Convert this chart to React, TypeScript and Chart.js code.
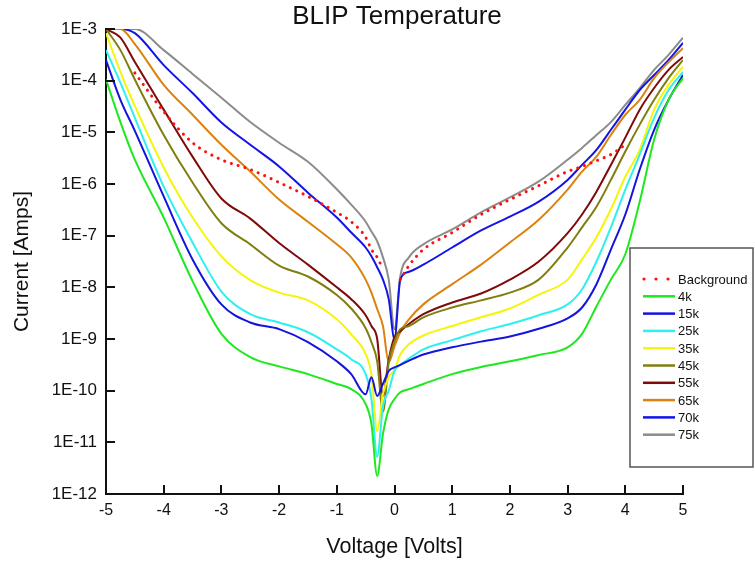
import React, { useEffect, useRef } from "react";
import { Chart, registerables } from "chart.js";

Chart.register(...registerables);

// Voltage grid (Volts)
const voltage = [-5, -4.75, -4.5, -4, -3.5, -3, -2.5, -2, -1.5, -1, -0.75, -0.5, -0.4, -0.3, -0.2, -0.1, 0, 0.1, 0.25, 0.5, 1, 1.5, 2, 2.5, 3, 3.25, 3.5, 3.75, 4, 4.25, 4.5, 4.75, 5];

// Currents (Amps)
const background = [null, null, 1.41e-4, 2.51e-5, 6.3e-6, 2.95e-6, 1.91e-6, 1.07e-6, 5.75e-7, 2.82e-7, 1.86e-7, 9.3e-8, 5.4e-8, 3.8e-8, 2.24e-8, null, null, 1.41e-8, 2.63e-8, 5.4e-8, 1.15e-7, 2.57e-7, 5.0e-7, 9.3e-7, 1.74e-6, 2.19e-6, 2.82e-6, 3.72e-6, 5.75e-6, null, null, null, null];
const t4k = [1.05e-4, 1.58e-5, 2.95e-6, 2.24e-7, 1.32e-8, 1.26e-9, 4.47e-10, 2.95e-10, 2.09e-10, 1.35e-10, 1.07e-10, 5.5e-11, 2.29e-11, 2.24e-12, 1.45e-11, 4.37e-11, 6.9e-11, 9.3e-11, 1.07e-10, 1.35e-10, 2.09e-10, 2.88e-10, 3.7e-10, 4.9e-10, 6.9e-10, 1.26e-9, 4.27e-9, 1.41e-8, 4.37e-8, 4.57e-7, 7.24e-6, 4.27e-5, 1.12e-4];
const t15k = [2.51e-4, 4.27e-5, 1.07e-5, 5.75e-7, 3.47e-8, 4.68e-9, 2.09e-9, 1.55e-9, 8.7e-10, 3.7e-10, 2.09e-10, 8.5e-11, 1.82e-10, 7.9e-11, 1.35e-10, 2.4e-10, 2.82e-10, 3.16e-10, 3.8e-10, 5.0e-10, 6.9e-10, 8.9e-10, 1.12e-9, 1.58e-9, 2.51e-9, 4.07e-9, 1.15e-8, 5.37e-8, 2.57e-7, 1.91e-6, 1.12e-5, 4.27e-5, 1.29e-4];
const t25k = [3.9e-4, 9.1e-5, 1.91e-5, 8.9e-7, 7.4e-8, 8.3e-9, 3.02e-9, 2.09e-9, 1.35e-9, 6.3e-10, 4.07e-10, 2.09e-10, 6.9e-11, 5.25e-12, 5.0e-11, 1.0e-10, 2.4e-10, 3.16e-10, 4.17e-10, 6.3e-10, 9.5e-10, 1.41e-9, 1.95e-9, 2.88e-9, 4.68e-9, 9.1e-9, 3.16e-8, 1.45e-7, 7.8e-7, 3.72e-6, 1.91e-5, 6.6e-5, 1.48e-4];
const t35k = [8.3e-4, 1.48e-4, 3.24e-5, 2.09e-6, 2.24e-7, 3.98e-8, 1.38e-8, 7.9e-9, 5.6e-9, 2.4e-9, 1.23e-9, 5.1e-10, 2.09e-10, 1.66e-11, 8.5e-11, 1.82e-10, 2.5e-10, 5.0e-10, 7.9e-10, 1.17e-9, 1.78e-9, 2.63e-9, 3.89e-9, 7.2e-9, 1.41e-8, 3.47e-8, 9.3e-8, 3.24e-7, 1.38e-6, 4.57e-6, 2.75e-5, 8.3e-5, 1.86e-4];
const t45k = [1.0e-3, 3.9e-4, 1.05e-4, 8.9e-6, 1.07e-6, 1.74e-7, 6.8e-8, 2.63e-8, 1.62e-8, 7.1e-9, 3.89e-9, 1.62e-9, 8.7e-10, 3.7e-10, 3.9e-11, 3.5e-10, 8.9e-10, 1.55e-9, 1.78e-9, 2.63e-9, 4.07e-9, 5.6e-9, 7.9e-9, 1.41e-8, 5.9e-8, 1.45e-7, 3.63e-7, 1.2e-6, 4.27e-6, 1.41e-5, 4.27e-5, 1.12e-4, 2.51e-4];
const t55k = [1.0e-3, 6.8e-4, 2.29e-4, 2.75e-5, 3.39e-6, 5.25e-7, 2.14e-7, 7.2e-8, 2.75e-8, 1.0e-8, 5.9e-9, 2.88e-9, 1.78e-9, 1.0e-9, 7.9e-11, 4.0e-10, 1.1e-9, 1.41e-9, 1.95e-9, 3.02e-9, 5.1e-9, 7.6e-9, 1.41e-8, 3.16e-8, 1.12e-7, 2.57e-7, 7.1e-7, 2.34e-6, 7.9e-6, 2.75e-5, 7.2e-5, 1.62e-4, 2.88e-4];
const t65k = [1.0e-3, 1.0e-3, 5.1e-4, 8.3e-5, 2.19e-5, 5.75e-6, 1.74e-6, 5.0e-7, 1.86e-7, 6.8e-8, 3.8e-8, 1.41e-8, 7.9e-9, 3.8e-9, 1.78e-9, 3.55e-10, 7.2e-10, 1.35e-9, 2.4e-9, 4.68e-9, 1.15e-8, 2.75e-8, 7.4e-8, 2.04e-7, 7.8e-7, 1.74e-6, 3.39e-6, 8.9e-6, 2.19e-5, 4.27e-5, 1.12e-4, 2.29e-4, 4.27e-4];
const t70k = [1.0e-3, 1.0e-3, 8.3e-4, 2.0e-4, 5.75e-5, 1.55e-5, 5.75e-6, 2.19e-6, 6.8e-7, 2.24e-7, 1.15e-7, 5.9e-8, 3.98e-8, 2.45e-8, 1.41e-8, 5.9e-9, 1.0e-9, 1.41e-8, 2.0e-8, 2.75e-8, 5.9e-8, 1.26e-7, 2.34e-7, 4.57e-7, 1.2e-6, 2.34e-6, 4.57e-6, 1.12e-5, 2.75e-5, 6.6e-5, 1.29e-4, 2.51e-4, 5.4e-4];
const t75k = [1.0e-3, 1.0e-3, 1.0e-3, 3.9e-4, 1.35e-4, 4.68e-5, 1.58e-5, 6.3e-6, 2.69e-6, 7.9e-7, 3.98e-7, 1.86e-7, 1.2e-7, 7.8e-8, 3.8e-8, 1.41e-8, 1.55e-9, 1.62e-8, 3.8e-8, 6.8e-8, 1.32e-7, 2.82e-7, 5.5e-7, 1.12e-6, 2.95e-6, 5.0e-6, 8.9e-6, 1.58e-5, 3.39e-5, 7.2e-5, 1.62e-4, 3.16e-4, 6.8e-4];

const seriesLabels = ["Background", "4k", "15k", "25k", "35k", "45k", "55k", "65k", "70k", "75k"];
const seriesValues = [background, t4k, t15k, t25k, t35k, t45k, t55k, t65k, t70k, t75k];
const seriesColors = ["#ff1010", "#1ee81e", "#1414dc", "#2ef0f0", "#f5f50a", "#7f7f10", "#7f0a0a", "#dc820f", "#1414e6", "#8c8c8c"];

const yTickValues = [1e-12, 1e-11, 1e-10, 1e-9, 1e-8, 1e-7, 1e-6, 1e-5, 1e-4, 1e-3];
const yTickLabels = ["1E-12", "1E-11", "1E-10", "1E-9", "1E-8", "1E-7", "1E-6", "1E-5", "1E-4", "1E-3"];
const xTickValues = [-5, -4, -3, -2, -1, 0, 1, 2, 3, 4, 5];
const chartTitle = "BLIP Temperature";

const FONT = 'Arial, "Liberation Sans", sans-serif';

const titlePlugin = {
  id: "centredTitle",
  afterDraw(chart: any) {
    const { ctx } = chart;
    ctx.save();
    ctx.font = `26px ${FONT}`;
    ctx.fillStyle = "#111";
    ctx.textAlign = "center";
    ctx.textBaseline = "middle";
    ctx.fillText(chartTitle, 397, 17);
    ctx.restore();
  },
};

const innerTicks = {
  id: "innerTicks",
  afterDatasetsDraw(chart: any) {
    const { ctx, chartArea, scales } = chart;
    ctx.save();
    ctx.strokeStyle = "#111";
    ctx.lineWidth = 2;
    for (const v of yTickValues) {
      const y = Math.round(scales.y.getPixelForValue(v));
      ctx.beginPath();
      ctx.moveTo(chartArea.left, y);
      ctx.lineTo(chartArea.left + 9, y);
      ctx.stroke();
    }
    for (const v of xTickValues) {
      const x = Math.round(scales.x.getPixelForValue(v));
      ctx.beginPath();
      ctx.moveTo(x, chartArea.bottom);
      ctx.lineTo(x, chartArea.bottom - 9);
      ctx.stroke();
    }
    ctx.restore();
  },
};

const boxLegend = {
  id: "boxLegend",
  afterDraw(chart: any) {
    const { ctx } = chart;
    ctx.save();
    const bx = 630, by = 248, bw = 123, bh = 219;
    ctx.fillStyle = "#fff";
    ctx.fillRect(bx, by, bw, bh);
    ctx.strokeStyle = "#555";
    ctx.lineWidth = 1.5;
    ctx.strokeRect(bx, by, bw, bh);
    ctx.font = `13px ${FONT}`;
    ctx.textBaseline = "middle";
    ctx.textAlign = "left";
    chart.data.datasets.forEach((ds: any, i: number) => {
      const y = 279 + i * 17.3;
      if (ds.borderDash && ds.borderDash.length) {
        ctx.fillStyle = ds.borderColor;
        for (const dx of [644, 656, 668]) {
          ctx.beginPath();
          ctx.arc(dx, y, 1.6, 0, Math.PI * 2);
          ctx.fill();
        }
      } else {
        ctx.strokeStyle = ds.borderColor;
        ctx.lineWidth = 2.5;
        ctx.beginPath();
        ctx.moveTo(643, y);
        ctx.lineTo(675, y);
        ctx.stroke();
      }
      ctx.fillStyle = "#111";
      ctx.fillText(ds.label, 678, y + 1);
    });
    ctx.restore();
  },
};

export default function App() {
  const ref = useRef<HTMLCanvasElement | null>(null);

  useEffect(() => {
    if (!ref.current) return;
    const datasets = seriesLabels.map((label, i) => {
      const dashed = i === 0;
      return {
        label,
        data: voltage.map((v, k) => ({ x: v, y: seriesValues[i][k] })),
        borderColor: seriesColors[i],
        backgroundColor: seriesColors[i],
        borderWidth: dashed ? 3 : 2,
        borderDash: dashed ? [0.1, 7] : [],
        borderCapStyle: dashed ? "round" : "butt",
        pointRadius: 0,
        fill: false,
        spanGaps: false,
        cubicInterpolationMode: "monotone",
      };
    });

    const chart = new Chart(ref.current, {
      type: "line",
      data: { datasets: datasets as any },
      plugins: [innerTicks, boxLegend, titlePlugin],
      options: {
        animation: false,
        responsive: false,
        layout: { padding: { left: 0, top: 29, right: 72, bottom: 0 } },
        plugins: {
          legend: { display: false },
          tooltip: { enabled: false },
          title: { display: false },
        },
        scales: {
          x: {
            type: "linear",
            min: -5,
            max: 5,
            afterBuildTicks: (scale: any) => {
              scale.ticks = xTickValues.map((v) => ({ value: v }));
            },
            afterFit: (scale: any) => {
              scale.height = 67;
            },
            grid: { display: false, drawTicks: false },
            border: { display: true, color: "#111", width: 2 },
            ticks: {
              color: "#111",
              padding: 7,
              font: { family: FONT, size: 16 },
              callback: (v: any) => String(v),
            },
            title: {
              display: true,
              text: "Voltage [Volts]",
              color: "#111",
              font: { family: FONT, size: 21.5 },
              padding: { top: 0, bottom: 1 },
            },
          },
          y: {
            type: "logarithmic",
            min: 1e-12,
            max: 1e-3,
            afterBuildTicks: (scale: any) => {
              scale.ticks = yTickValues.map((v) => ({ value: v }));
            },
            afterFit: (scale: any) => {
              scale.width = 106;
            },
            grid: { display: false, drawTicks: false },
            border: { display: true, color: "#111", width: 2 },
            ticks: {
              color: "#111",
              padding: 9,
              autoSkip: false,
              font: { family: FONT, size: 17 },
              callback: (_v: any, i: number) => yTickLabels[i],
            },
            title: {
              display: true,
              text: "Current [Amps]",
              color: "#111",
              font: { family: FONT, size: 21 },
              padding: { top: 10, bottom: 0 },
            },
          },
        },
      },
    });
    return () => chart.destroy();
  }, []);

  return (
    <div style={{ position: "absolute", left: 0, top: 0, width: 755, height: 561, background: "#fff" }}>
      <canvas ref={ref} width={755} height={561} style={{ display: "block" }} />
    </div>
  );
}
